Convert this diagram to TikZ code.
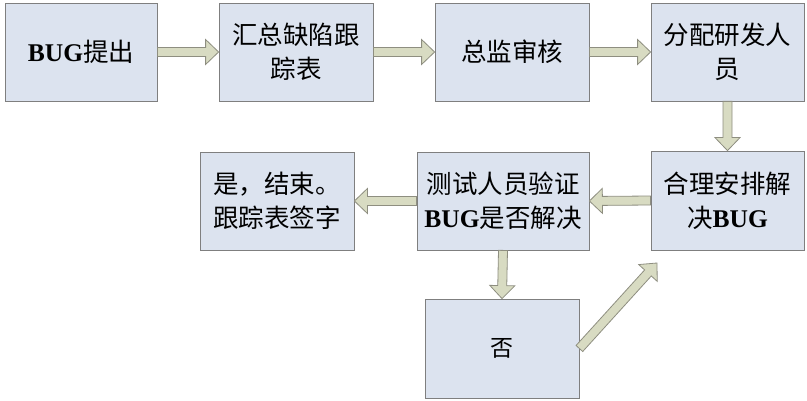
\documentclass[tikz,border=0pt]{standalone}
\usepackage{fontspec}
\setmainfont{Liberation Serif}
\newfontfamily\cjk{Noto Sans CJK SC}
\usetikzlibrary{calc}
\definecolor{boxfill}{HTML}{DCE3EF}
\definecolor{boxline}{HTML}{7F7F7F}
\definecolor{flowfill}{HTML}{D8DBC2}
\definecolor{flowline}{HTML}{8E8E80}
% block arrow from one anchor to another
\newcommand\flowarrow[2]{%
\path[flow] let \p1=(#1), \p2=(#2),
  \n1={atan2(\y2-\y1,\x2-\x1)}, \n2={veclen(\x2-\x1,\y2-\y1)}, \n3={\n2-13pt} in
  ($(\p1)+(\n1+90:4.5pt)$) -- ($(\p1)+(\n1:\n3)+(\n1+90:4.5pt)$)
  -- ($(\p1)+(\n1:\n3)+(\n1+90:12.5pt)$) -- (\p2)
  -- ($(\p1)+(\n1:\n3)+(\n1-90:12.5pt)$) -- ($(\p1)+(\n1:\n3)+(\n1-90:4.5pt)$)
  -- ($(\p1)+(\n1-90:4.5pt)$) -- cycle;}
\begin{document}
\begin{tikzpicture}[x=1pt, y=-1pt,
  box/.style={draw=boxline, fill=boxfill, line width=0.8pt, minimum width=154pt,
    minimum height=98pt, align=center, inner sep=0pt,
    font=\fontsize{25.5}{34}\selectfont\cjk},
  flow/.style={draw=flowline, fill=flowfill, line width=0.8pt, line join=miter}]
\useasboundingbox (0,0) rectangle (807,401);
\node[box, minimum width=152pt] (b1) at (81,52) {\textrm{\textbf{BUG}}提出};
\node[box] (b2) at (296,52) {汇总缺陷跟\\踪表};
\node[box] (b3) at (512,52) {总监审核};
\node[box, minimum width=153pt] (b4) at (727.5,52) {分配研发人\\员};
\node[box, minimum width=153pt, minimum height=99pt] (b5) at (727.5,200.5) {合理安排解\\决\textrm{\textbf{BUG}}};
\node[box, minimum width=172pt] (b6) at (503,201) {测试人员验证\\\textrm{\textbf{BUG}}是否解决};
\node[box] (b7) at (277,201) {是，结束。\\跟踪表签字};
\node[box, minimum height=99pt, font=\fontsize{23}{28}\selectfont\cjk] (b8) at (502,348.5) {否};
\coordinate (back) at (657,263);
\flowarrow{b1.east}{b2.west}
\flowarrow{b2.east}{b3.west}
\flowarrow{b3.east}{b4.west}
\flowarrow{b4.south}{b5.north}
\flowarrow{b5.west}{b6.east}
\flowarrow{b6.west}{b7.east}
\flowarrow{b6.south}{b8.north}
\flowarrow{b8.east}{back}
\end{tikzpicture}
\end{document}
